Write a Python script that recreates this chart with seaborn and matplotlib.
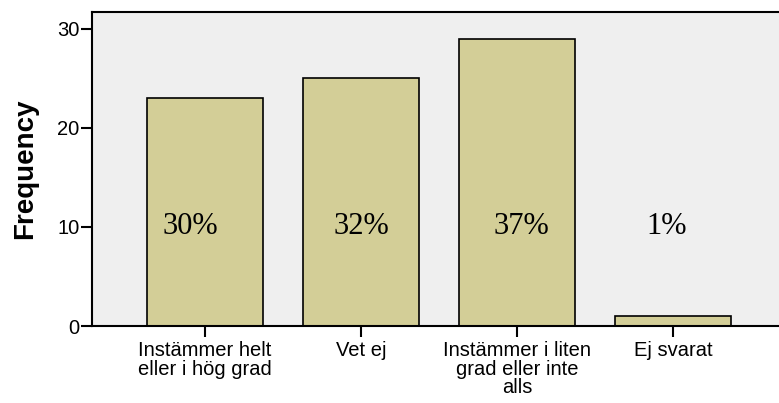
import matplotlib
matplotlib.use("Agg")
import matplotlib.pyplot as plt
import seaborn as sns
import pandas as pd

categories = ["Instämmer helt\neller i hög grad", "Vet ej",
              "Instämmer i liten\ngrad eller inte\nalls", "Ej svarat"]
counts = [23, 25, 29, 1]
percent_labels = ["30%", "32%", "37%", "1%"]
# small horizontal nudges of the percent labels (category units)
label_nudge = [-0.095, 0.0, 0.026, -0.038]

df = pd.DataFrame({"cat": categories, "n": counts})

sns.set_style("white")
plt.rcParams["font.family"] = ["Liberation Sans", "DejaVu Sans"]

fig = plt.figure(figsize=(7.79, 4.03), dpi=100)
ax = fig.add_axes([0.1181, 0.191, 0.8819, 0.779])
ax.set_facecolor("#EFEFEF")

sns.barplot(data=df, x="cat", y="n", color="#D3CE97", saturation=1,
            width=0.744, edgecolor="black", linewidth=1.2, ax=ax)

for i, lab in enumerate(percent_labels):
    ax.text(i + label_nudge[i], 10, lab, ha="center", va="center",
            fontsize=22, family="Liberation Serif", color="black")

ax.set_xlim(-0.724, 3.68)
ax.set_ylim(0, 31.7)
ax.set_yticks([0, 10, 20, 30])
ax.set_xlabel("")
ax.set_ylabel("Frequency", fontsize=20, fontweight="bold", labelpad=14,
              color="black")
ax.tick_params(axis="both", direction="out", length=8, width=1.5,
               labelsize=14.5, color="black", labelcolor="black",
               bottom=True, left=True)
ax.tick_params(axis="x", pad=3)
ax.tick_params(axis="y", pad=1)
for lbl in ax.get_xticklabels():
    lbl.set_linespacing(0.95)
for s in ["left", "top", "bottom"]:
    ax.spines[s].set_color("black")
    ax.spines[s].set_linewidth(1.5)
ax.spines["right"].set_visible(False)

fig.savefig("out.png", dpi=100)
